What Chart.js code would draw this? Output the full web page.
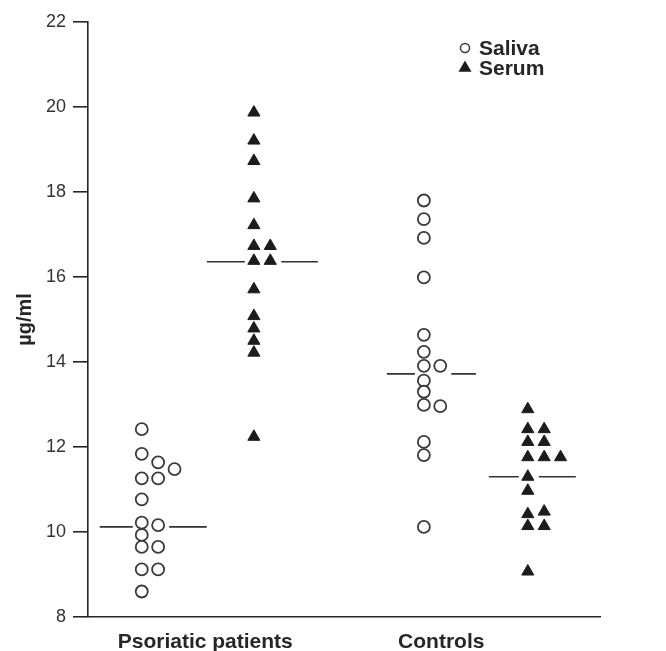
<!DOCTYPE html>
<html>
<head>
<meta charset="utf-8">
<script src="https://cdn.jsdelivr.net/npm/chart.js@4.4.0/dist/chart.umd.min.js"></script>
<style>
  html, body { margin: 0; padding: 0; background: #fff; }
  #wrap { width: 666px; height: 651px; }
</style>
</head>
<body>
<div id="wrap"><canvas id="chart"></canvas></div>
<script>
// Categories and series
const groups = ['Psoriatic patients', 'Controls'];
const seriesNames = ['Saliva', 'Serum'];

// Values (µg/ml); *Col = side-by-side column of each dot
const psoriaticSaliva    = [12.42, 11.84, 11.64, 11.48, 11.26, 11.26, 10.77, 10.22, 10.16, 9.93, 9.65, 9.65, 9.12, 9.12, 8.6];
const psoriaticSalivaCol = [0, 0, 1, 2, 0, 1, 0, 0, 1, 0, 0, 1, 0, 1, 0];
const psoriaticSerum     = [19.87, 19.21, 18.73, 17.85, 17.22, 16.73, 16.73, 16.38, 16.38, 15.71, 15.08, 14.79, 14.5, 14.22, 12.24];
const psoriaticSerumCol  = [0, 0, 0, 0, 0, 0, 1, 0, 1, 0, 0, 0, 0, 0, 0];
const controlSaliva      = [17.8, 17.36, 16.92, 15.99, 14.64, 14.24, 13.91, 13.91, 13.56, 13.3, 12.99, 12.96, 12.12, 11.81, 10.12];
const controlSalivaCol   = [0, 0, 0, 0, 0, 0, 0, 1, 0, 0, 0, 1, 0, 0, 0];
const controlSerum       = [12.89, 12.42, 12.42, 12.12, 12.12, 11.76, 11.76, 11.76, 11.3, 10.97, 10.48, 10.42, 10.14, 10.14, 9.07];
const controlSerumCol    = [0, 0, 1, 0, 1, 0, 1, 2, 0, 0, 1, 0, 0, 1, 0];

// median bars: psoriatic saliva, psoriatic serum, control saliva, control serum
const medians = [10.12, 16.36, 13.72, 11.3];

// x axis runs 0..100, the four dot columns sit at these slots
const slotX = [10.5, 32.4, 65.6, 85.9];
const colStep = 3.2;
const labelX = [22.9, 69];

const pxUnit = 100 / 512; // one pixel in x units (plot is 512px wide)

function dots(vals, cols, slot) {
    return vals.map((v, i) => ({ x: slotX[slot] + cols[i] * colStep, y: v }));
}

// median line broken where the dots sit (reach left / right of each column, px)
const gapCols = [1, 1, 1, 0];
const reachLeft = [42, 47, 37, 39];
const reachRight = [65, 64, 52, 48];
function medianLine(slot) {
    const base = slotX[slot];
    const m = medians[slot];
    const gapEnd = base + gapCols[slot] * colStep + 11 * pxUnit;
    return [
        { x: base - reachLeft[slot] * pxUnit, y: m },
        { x: base - 9 * pxUnit, y: m },
        { x: base - 9 * pxUnit, y: null },
        { x: gapEnd, y: m },
        { x: base + reachRight[slot] * pxUnit, y: m }
    ];
}

const ink = '#262626';

const datasets = [
    {
        label: seriesNames[0],
        data: dots(psoriaticSaliva, psoriaticSalivaCol, 0).concat(dots(controlSaliva, controlSalivaCol, 2)),
        pointStyle: 'circle',
        pointRadius: 6,
        borderWidth: 1.8,
        borderColor: '#3a3a3a',
        backgroundColor: '#ffffff'
    },
    {
        label: seriesNames[1],
        data: dots(psoriaticSerum, psoriaticSerumCol, 1).concat(dots(controlSerum, controlSerumCol, 3)),
        pointStyle: 'triangle',
        pointRadius: 7,
        borderWidth: 1,
        borderColor: '#1c1c1c',
        backgroundColor: '#1c1c1c'
    }
];

[0, 1, 2, 3].forEach(slot => {
    datasets.push({
        label: 'median',
        data: medianLine(slot),
        showLine: true,
        spanGaps: false,
        pointRadius: 0,
        borderColor: '#333',
        borderWidth: 1.6
    });
});

// Saliva / Serum key in the upper right corner
const cornerLegend = {
    id: 'cornerLegend',
    afterDraw(chart) {
        const ctx = chart.ctx;
        ctx.save();
        const x = 465, y0 = 48, step = 20;
        chart.data.datasets.slice(0, 2).forEach((ds, i) => {
            const y = y0 + i * step;
            ctx.fillStyle = ds.backgroundColor;
            ctx.strokeStyle = ds.borderColor;
            ctx.lineWidth = 1.5;
            Chart.helpers.drawPoint(ctx, {
                pointStyle: ds.pointStyle,
                radius: i ? 6 : 4.5,
                borderWidth: 1.5,
                rotation: 0
            }, x, y);
            ctx.fillStyle = ink;
            ctx.font = 'bold 21px "Liberation Sans", Arial, sans-serif';
            ctx.textBaseline = 'middle';
            ctx.textAlign = 'left';
            ctx.fillText(ds.label, x + 14, y + 1);
        });
        ctx.restore();
    }
};

new Chart(document.getElementById('chart'), {
    type: 'scatter',
    data: { datasets: datasets },
    options: {
        animation: false,
        responsive: true,
        maintainAspectRatio: false,
        layout: { padding: { left: 0, top: 22, right: 66, bottom: 0 } },
        plugins: {
            legend: { display: false },
            tooltip: { enabled: false }
        },
        scales: {
            x: {
                type: 'linear',
                min: 0,
                max: 100,
                afterBuildTicks: s => { s.ticks = labelX.map(v => ({ value: v })); },
                afterFit: s => { s.height = 34; },
                grid: { display: false },
                border: { display: true, color: ink, width: 1.6 },
                ticks: {
                    autoSkip: false,
                    maxRotation: 0,
                    padding: 5,
                    color: ink,
                    font: { family: '"Liberation Sans", Arial, sans-serif', size: 21, weight: 'bold' },
                    callback: (v, i) => groups[i]
                }
            },
            y: {
                min: 8,
                max: 22,
                afterFit: s => { s.width = 88; },
                grid: {
                    drawOnChartArea: false,
                    drawTicks: true,
                    tickLength: 15,
                    color: ink,
                    lineWidth: 1.6
                },
                border: { display: true, color: ink, width: 1.6 },
                ticks: {
                    stepSize: 2,
                    padding: 7,
                    color: '#333',
                    font: { family: '"Liberation Sans", Arial, sans-serif', size: 18 }
                },
                title: {
                    display: true,
                    text: 'µg/ml',
                    color: ink,
                    padding: { top: 13, bottom: 0 },
                    font: { family: '"Liberation Sans", Arial, sans-serif', size: 20, weight: 'bold' }
                }
            }
        }
    },
    plugins: [cornerLegend]
});
</script>
</body>
</html>
